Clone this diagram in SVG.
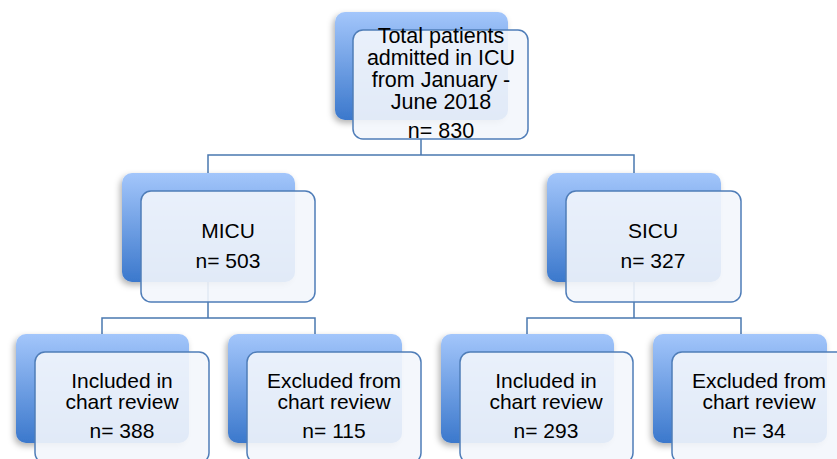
<svg xmlns="http://www.w3.org/2000/svg" width="837" height="459" viewBox="0 0 837 459">
<defs>
<linearGradient id="g" x1="0" y1="0" x2="0" y2="1">
<stop offset="0" stop-color="#a3c6fb"/>
<stop offset="1" stop-color="#3b78cc"/>
</linearGradient>
<filter id="sh" x="-20%" y="-20%" width="140%" height="140%">
<feDropShadow dx="-2" dy="3" stdDeviation="3" flood-color="#000" flood-opacity="0.3"/>
</filter>
</defs>
<style>
.back{fill:url(#g);filter:url(#sh)}
.front{fill:#f3f6fc;fill-opacity:0.9;stroke:#4f7db8;stroke-width:1.5}
.conn{fill:none;stroke:#4a78b0;stroke-width:1.5}
text{font-family:"Liberation Sans",Arial,sans-serif;font-size:21px;fill:#000;text-anchor:middle}
.big{font-size:21.5px}
</style>
<rect width="837" height="459" fill="#fff"/>
<g id="connectors">
<path class="conn" d="M421,139 V155 M208,173 V155 H634 V173"/>
<path class="conn" d="M208,282 V318 M102,334 V318 H315 V334"/>
<path class="conn" d="M634,282 V318 M527,334 V318 H741 V334"/>
</g>
<g id="total">
<rect class="back" x="335" y="12" width="173" height="108" rx="10"/>
<rect class="front" x="353" y="30" width="175" height="109" rx="10"/>
<text class="big" x="441" y="43">Total patients</text>
<text class="big" x="441" y="65">admitted in ICU</text>
<text class="big" x="441" y="87">from January -</text>
<text class="big" x="441" y="109">June 2018</text>
<text class="big" x="441" y="138">n= 830</text>
</g>
<g id="micu">
<rect class="back" x="122" y="173" width="173" height="109" rx="10"/>
<rect class="front" x="141" y="191" width="174" height="111" rx="10"/>
<text x="228" y="238">MICU</text>
<text x="228" y="268">n= 503</text>
</g>
<g id="sicu">
<rect class="back" x="547" y="173" width="174" height="109" rx="10"/>
<rect class="front" x="566" y="191" width="175" height="111" rx="10"/>
<text x="653" y="238">SICU</text>
<text x="653" y="268">n= 327</text>
</g>
<g id="micu-included">
<rect class="back" x="16" y="334" width="173" height="109" rx="10"/>
<rect class="front" x="35" y="352" width="174" height="111" rx="10"/>
<text x="122" y="388">Included in</text>
<text x="122" y="409">chart review</text>
<text x="122" y="438">n= 388</text>
</g>
<g id="micu-excluded">
<rect class="back" x="228" y="334" width="174" height="109" rx="10"/>
<rect class="front" x="247" y="352" width="174" height="111" rx="10"/>
<text x="334" y="388">Excluded from</text>
<text x="334" y="409">chart review</text>
<text x="334" y="438">n= 115</text>
</g>
<g id="sicu-included">
<rect class="back" x="441" y="334" width="173" height="109" rx="10"/>
<rect class="front" x="460" y="352" width="173" height="111" rx="10"/>
<text x="546" y="388">Included in</text>
<text x="546" y="409">chart review</text>
<text x="546" y="438">n= 293</text>
</g>
<g id="sicu-excluded">
<rect class="back" x="653" y="334" width="174" height="109" rx="10"/>
<rect class="front" x="672" y="352" width="174" height="111" rx="10"/>
<text x="759" y="388">Excluded from</text>
<text x="759" y="409">chart review</text>
<text x="759" y="438">n= 34</text>
</g>
</svg>
